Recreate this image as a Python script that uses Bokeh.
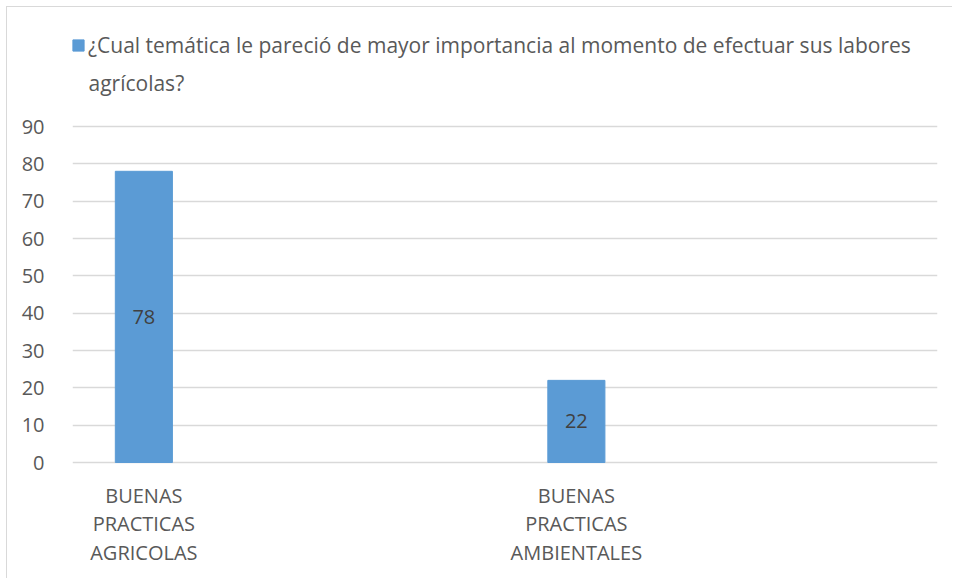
from bokeh.plotting import figure
from bokeh.models import (ColumnDataSource, Range1d, FixedTicker, Label,
                          Legend, LegendItem)
from bokeh.core.properties import value
from bokeh.embed import file_html
from bokeh.resources import INLINE

# ---- data ----
categories = ["BUENAS PRACTICAS AGRICOLAS", "BUENAS PRACTICAS AMBIENTALES"]
values = [78, 22]
series_name = "¿Cual temática le pareció de mayor importancia al momento de efectuar sus labores\nagrícolas?"
y_ticks = [0, 10, 20, 30, 40, 50, 60, 70, 80, 90]

# ---- style / layout ----
FONT = "Open Sans"
BAR_COLOR = "#5B9BD5"
TEXT_COLOR = "#595959"
GRID_COLOR = "#D9D9D9"
bar_offset = 0.165      # bar position inside its category slot
bar_width = 0.132

W, H = 946, 572          # figure size (page offset 7px by margin + border)
FRAME_LEFT, FRAME_RIGHT = 65, 16
Y_TOP_PX, Y_ZERO_PX = 119, 455   # pixel rows (figure coords) of top tick and zero
ppu = (Y_ZERO_PX - Y_TOP_PX) / (max(y_ticks) - min(y_ticks))
y_start = -(H - Y_ZERO_PX) / ppu
y_end = max(y_ticks) + Y_TOP_PX / ppu

idx = list(range(len(categories)))
src = ColumnDataSource(dict(
    x=[i + bar_offset for i in idx],
    top=values,
    mid=[v / 2 for v in values],
    txt=[str(v) for v in values],
))

p = figure(width=W, height=H, output_backend="svg", toolbar_location=None,
           x_range=Range1d(0, len(categories)), y_range=Range1d(y_start, y_end),
           x_axis_location=None,
           min_border_left=FRAME_LEFT, min_border_right=FRAME_RIGHT,
           min_border_top=0, min_border_bottom=0)
p.styles = {"margin-left": "6px", "margin-top": "6px",
            "border-left": "1px solid #D9D9D9", "border-top": "1px solid #D9D9D9"}
p.outline_line_color = None
p.background_fill_color = "white"
p.border_fill_color = "white"

r = p.vbar(x="x", top="top", width=bar_width, bottom=0, source=src,
           fill_color=BAR_COLOR, line_color=BAR_COLOR)

p.text(x="x", y="mid", text="txt", source=src, text_align="center",
       text_baseline="middle", text_color="#404040", text_font=value(FONT),
       text_font_size="20px")

# axes
p.xgrid.visible = False
p.yaxis.ticker = FixedTicker(ticks=y_ticks)
p.yaxis.axis_line_color = None
p.yaxis.major_tick_line_color = None
p.yaxis.minor_tick_line_color = None
p.yaxis.major_label_text_color = TEXT_COLOR
p.yaxis.major_label_text_font = FONT
p.yaxis.major_label_text_font_size = "20px"
p.yaxis.major_label_standoff = 22
p.ygrid.ticker = FixedTicker(ticks=y_ticks)
p.ygrid.grid_line_color = GRID_COLOR
p.ygrid.grid_line_width = 1.5

# category labels (wrapped, centred under the bars)
for i, cat in enumerate(categories):
    p.add_layout(Label(x=i + bar_offset, y=0, x_units="data", y_units="data",
                       y_offset=-19,
                       text="\n".join(cat.split(" ")), text_align="center",
                       text_baseline="top", text_color=TEXT_COLOR,
                       text_font=FONT, text_font_size="20px",
                       text_line_height=1.07))

# legend: first line next to the swatch, continuation line below it
name_lines = series_name.split("\n")
legend = Legend(items=[LegendItem(label=name_lines[0], renderers=[r])],
                location=(-1, 520), orientation="vertical",
                padding=0, margin=0, spacing=0,
                glyph_width=14, glyph_height=14, label_standoff=3,
                label_text_font=FONT, label_text_font_size="21px",
                label_text_color=TEXT_COLOR,
                border_line_color=None, background_fill_alpha=0)
p.add_layout(legend, "center")
for k, extra in enumerate(name_lines[1:]):
    p.add_layout(Label(x=0, y=y_end, x_units="data", y_units="data",
                       x_offset=16, y_offset=-(75 + 29 * k),
                       text=extra, text_align="left", text_baseline="alphabetic",
                       text_color=TEXT_COLOR, text_font=FONT,
                       text_font_size="21px"))

open("out.html", "w").write(file_html(p, INLINE))
